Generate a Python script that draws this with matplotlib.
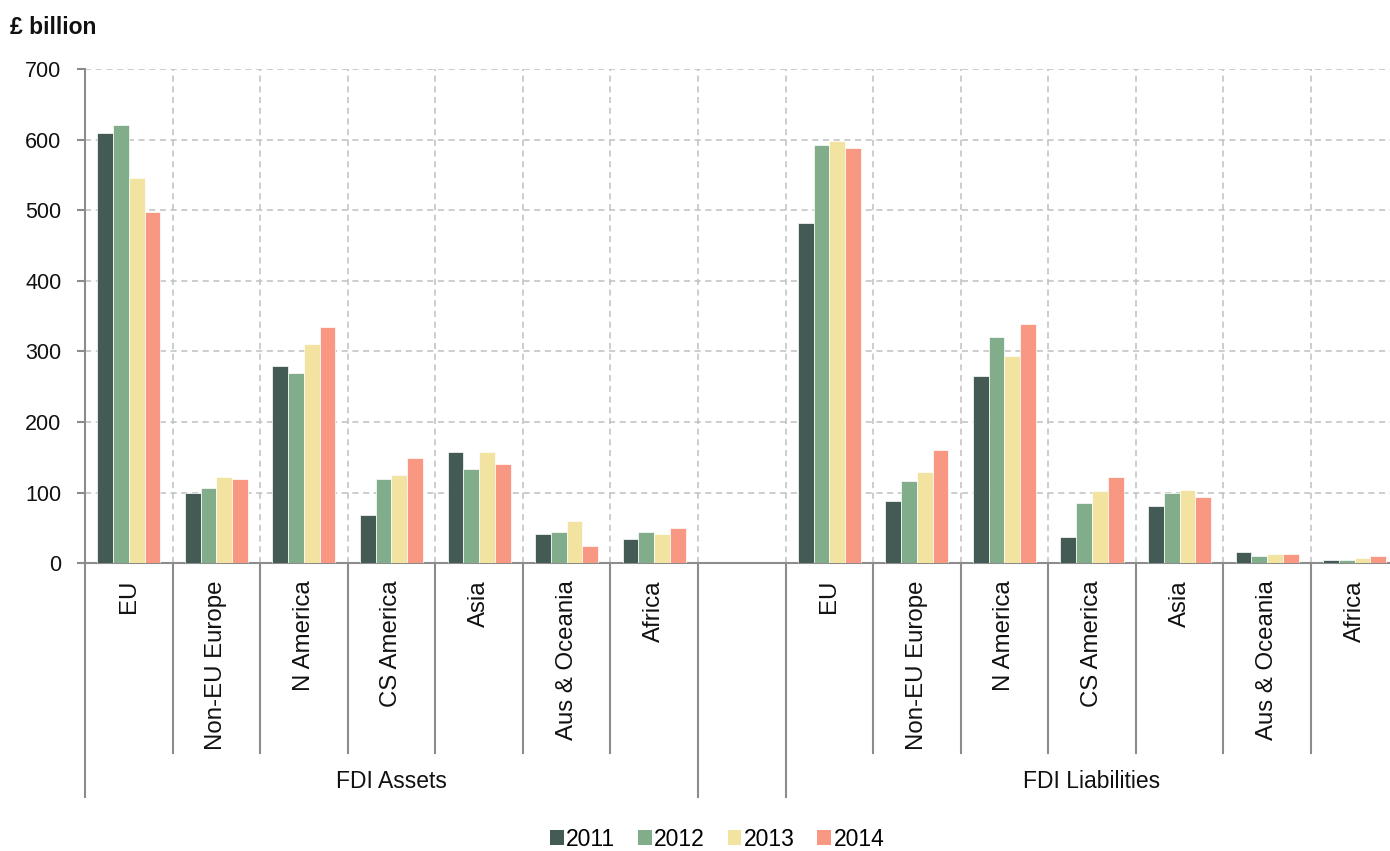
"""FDI assets and liabilities by region, 2011-2014 (grouped bars, two-level category axis)."""
import matplotlib
matplotlib.use("Agg")
import matplotlib.pyplot as plt
from matplotlib.patches import Patch

plt.rcParams["font.family"] = ["Liberation Sans", "DejaVu Sans"]

regions = ["EU", "Non-EU Europe", "N America", "CS America", "Asia",
           "Aus & Oceania", "Africa"]
groups = ["FDI Assets", "FDI Liabilities"]
years = ["2011", "2012", "2013", "2014"]

assets_2011 = [609, 99, 280, 68, 157, 42, 34]
assets_2012 = [621, 107, 270, 120, 133, 44, 44]
assets_2013 = [546, 122, 311, 125, 157, 60, 42]
assets_2014 = [497, 120, 334, 149, 141, 24, 50]

liab_2011 = [482, 88, 265, 37, 81, 16, 5]
liab_2012 = [593, 117, 321, 86, 99, 10, 5]
liab_2013 = [598, 130, 293, 102, 104, 13, 8]
liab_2014 = [588, 161, 339, 122, 94, 13, 10]

assets = [assets_2011, assets_2012, assets_2013, assets_2014]
liabs = [liab_2011, liab_2012, liab_2013, liab_2014]

COLORS = ["#445a55", "#82ad8a", "#f2e4a0", "#f89882"]
GRID = "#c0c0c0"
AXIS = "#8c8c8c"

W, H = 1390, 851
fig = plt.figure(figsize=(W / 100, H / 100), dpi=100)
# plot area in pixels: x 85 -> 1398.5 (last slot runs off the image), y 69 -> 563
ax = fig.add_axes([85 / W, 1 - 563.3 / H, (1398.5 - 85) / W, (563.3 - 69) / H])

n = len(regions)
slot_asset = list(range(n))
slot_liab = [n + 1 + i for i in range(n)]
bw = 0.18
for k in range(len(years)):
    off = (k - 1.5) * bw
    ax.bar([s + 0.5 + off for s in slot_asset], assets[k], width=bw,
           color=COLORS[k], edgecolor="white", linewidth=0.5, zorder=3)
    ax.bar([s + 0.5 + off for s in slot_liab], liabs[k], width=bw,
           color=COLORS[k], edgecolor="white", linewidth=0.5, zorder=3)

total = 2 * n + 1
ax.set_xlim(0, total)
ax.set_ylim(0, 700)
ax.set_yticks(range(0, 701, 100))
ax.set_xticks([])
ax.grid(axis="y", color=GRID, linestyle=(0, (4, 3)), linewidth=1.1, zorder=0)
ax.vlines(range(1, total), 0, 700, color=GRID, linestyle=(0, (4, 3)),
          linewidth=1.1, zorder=0)

for side in ["top", "right"]:
    ax.spines[side].set_visible(False)
for side in ["left", "bottom"]:
    ax.spines[side].set_color(AXIS)
    ax.spines[side].set_linewidth(1.5)
ax.tick_params(axis="y", length=6, width=1.5, color=AXIS, pad=11,
               labelsize=15.5, labelcolor="#111111")

# category separators below the axis
xt = ax.get_xaxis_transform()
inner_y = -(753 - 563.3) / 494.3
outer_y = -(797 - 563.3) / 494.3
for b in range(1, total):
    if b in (n, n + 1):
        continue
    ax.plot([b, b], [0, inner_y], transform=xt, color=AXIS, lw=1.5,
            clip_on=False)
for b in (0, n, n + 1):
    ax.plot([b, b], [0, outer_y], transform=xt, color=AXIS, lw=1.5,
            clip_on=False)

lab_y = -(580 - 563.3) / 494.3
for i, name in enumerate(regions):
    for s in (slot_asset[i], slot_liab[i]):
        ax.text(s + 0.5, lab_y, name, transform=xt, rotation=90,
                ha="center", va="top", fontsize=17.3, color="#111111")

grp_y = -(781 - 563.3) / 494.3
ax.text(n / 2, grp_y, groups[0], transform=xt, ha="center", va="center",
        fontsize=16.5, color="#111111")
ax.text(n + 1 + n / 2, grp_y, groups[1], transform=xt, ha="center",
        va="center", fontsize=16.5, color="#111111")

fig.text(10 / W, 1 - 27 / H, "£ billion", fontsize=16.5, fontweight="bold",
         ha="left", va="center", color="#111111")

handles = [Patch(facecolor=c, edgecolor="none") for c in COLORS]
fig.legend(handles, years, loc="center", bbox_to_anchor=(717 / W, 1 - 839 / H),
           ncol=4, frameon=False, fontsize=16.5, handlelength=0.6,
           handleheight=0.6, handletextpad=0.1, columnspacing=1.0)

fig.savefig("out.png", dpi=100)
